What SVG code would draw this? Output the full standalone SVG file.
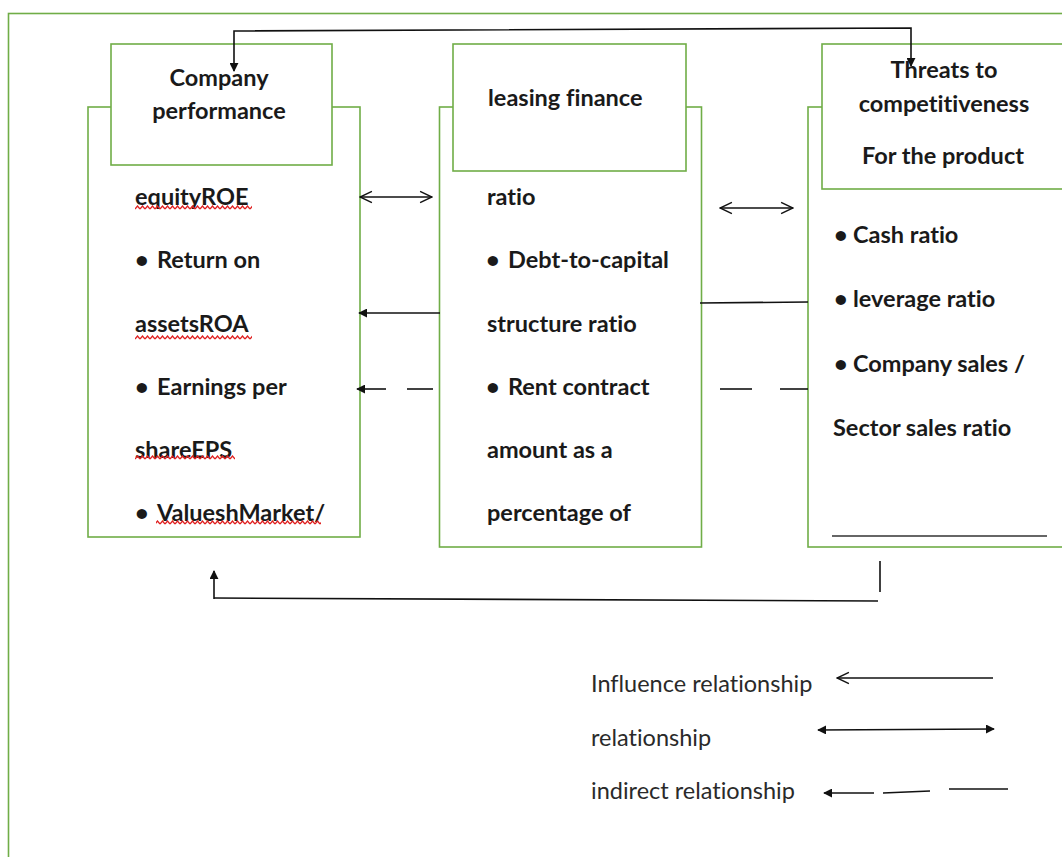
<svg xmlns="http://www.w3.org/2000/svg" width="1062" height="857" viewBox="0 0 1062 857">
<style>
.box{fill:#fff;stroke:#70AD47;stroke-width:1.6}
.t{font-family:Lato,"Liberation Sans",sans-serif;font-weight:bold;font-size:23.5px;fill:#1a1a1a;font-variant-ligatures:none}
.lg{font-family:Lato,"Liberation Sans",sans-serif;font-size:23.5px;fill:#2a2a2a;font-variant-ligatures:none}
.c{stroke:#111;stroke-width:1.6;fill:none}
.wv{fill:url(#wavy)}
</style>
<defs>
<marker id="fill" viewBox="0 0 10 10" refX="9" refY="5" markerWidth="9" markerHeight="9" markerUnits="userSpaceOnUse" orient="auto-start-reverse"><path d="M0,0 L10,5 L0,10 z" fill="#111"/></marker>
<marker id="open" viewBox="0 0 10 10" refX="9.5" refY="5" markerWidth="14" markerHeight="14" markerUnits="userSpaceOnUse" orient="auto-start-reverse"><path d="M1,1 L9.5,5 L1,9" fill="none" stroke="#111" stroke-width="1"/></marker>
<pattern id="wavy" width="5" height="5" patternUnits="userSpaceOnUse"><path d="M0,4 L2.5,1 L5,4" fill="none" stroke="#e02020" stroke-width="1.3"/></pattern>
</defs>
<rect x="8.5" y="13.5" width="1080" height="870" fill="#fff" stroke="#70AD47" stroke-width="1.6"/>

<g id="company-performance">
<rect class="box" x="88" y="107" width="272" height="430"/>
<rect class="box" x="111" y="44" width="221" height="121"/>
<text class="t" x="219" y="86" text-anchor="middle">Company</text>
<text class="t" x="219" y="119" text-anchor="middle">performance</text>
<text class="t" x="135" y="205">equityROE</text>
<text class="t" y="268"><tspan x="135">•</tspan><tspan x="157">Return on</tspan></text>
<text class="t" x="135" y="332">assetsROA</text>
<text class="t" y="395"><tspan x="135">•</tspan><tspan x="157">Earnings per</tspan></text>
<text class="t" x="135" y="458">shareEPS</text>
<text class="t" y="521"><tspan x="135">•</tspan><tspan x="157">ValueshMarket/</tspan></text>
<rect class="wv" x="135" y="205" width="117" height="5"/>
<rect class="wv" x="135" y="335" width="117" height="5"/>
<rect class="wv" x="135" y="455" width="100" height="5"/>
<rect class="wv" x="156" y="520" width="165" height="5"/>
</g>

<g id="leasing-finance">
<rect class="box" x="439.5" y="107" width="262" height="440"/>
<rect class="box" x="453" y="44" width="233" height="127"/>
<text class="t" x="488" y="106">leasing finance</text>
<text class="t" x="487" y="205">ratio</text>
<text class="t" y="268"><tspan x="486">•</tspan><tspan x="508">Debt-to-capital</tspan></text>
<text class="t" x="487" y="332">structure ratio</text>
<text class="t" y="395"><tspan x="486">•</tspan><tspan x="508">Rent contract</tspan></text>
<text class="t" x="487" y="458">amount as a</text>
<text class="t" x="487" y="521">percentage of</text>
</g>

<g id="threats">
<rect class="box" x="808" y="107" width="280" height="440"/>
<rect class="box" x="822" y="44" width="260" height="145"/>
<text class="t" x="944" y="78" text-anchor="middle">Threats to</text>
<text class="t" x="944" y="112" text-anchor="middle">competitiveness</text>
<text class="t" x="943" y="164" text-anchor="middle">For the product</text>
<text class="t" y="243"><tspan x="834">•</tspan><tspan x="853">Cash ratio</tspan></text>
<text class="t" y="307"><tspan x="834">•</tspan><tspan x="853">leverage ratio</tspan></text>
<text class="t" y="372"><tspan x="834">•</tspan><tspan x="853">Company sales /</tspan></text>
<text class="t" x="833" y="436">Sector sales ratio</text>
<line x1="832" y1="536" x2="1047" y2="536" stroke="#333" stroke-width="1.6"/>
</g>

<g id="connectors">
<polyline class="c" points="234,71 234,31 911,28 911,66" marker-start="url(#fill)" marker-end="url(#fill)"/>
<line class="c" x1="360" y1="197" x2="432" y2="197" marker-start="url(#open)" marker-end="url(#open)"/>
<line class="c" x1="720" y1="208" x2="793" y2="208" marker-start="url(#open)" marker-end="url(#open)"/>
<line class="c" x1="440" y1="313" x2="359" y2="313" marker-end="url(#fill)"/>
<line class="c" x1="386" y1="389" x2="357" y2="389" marker-end="url(#fill)"/>
<line class="c" x1="407" y1="389" x2="433" y2="389"/>
<line class="c" x1="700" y1="303" x2="808" y2="302"/>
<line class="c" x1="720" y1="389" x2="752" y2="389"/>
<line class="c" x1="780" y1="389" x2="808" y2="389"/>
<line class="c" x1="880" y1="561" x2="880" y2="592"/>
<polyline class="c" points="878,601 214,598"/>
<line class="c" x1="214" y1="599" x2="214" y2="571" marker-end="url(#fill)"/>
</g>

<g id="legend">
<text class="lg" x="591" y="692">Influence relationship</text>
<text class="lg" x="591" y="746">relationship</text>
<text class="lg" x="591" y="799">indirect relationship</text>
<line class="c" x1="993" y1="678" x2="837" y2="678" marker-end="url(#open)"/>
<line class="c" x1="818" y1="730" x2="994" y2="729" marker-start="url(#fill)" marker-end="url(#fill)"/>
<line class="c" x1="874" y1="793" x2="824" y2="793" marker-end="url(#fill)"/>
<line class="c" x1="883" y1="793" x2="930" y2="791"/>
<line class="c" x1="949" y1="789" x2="1008" y2="789"/>
</g>
</svg>
